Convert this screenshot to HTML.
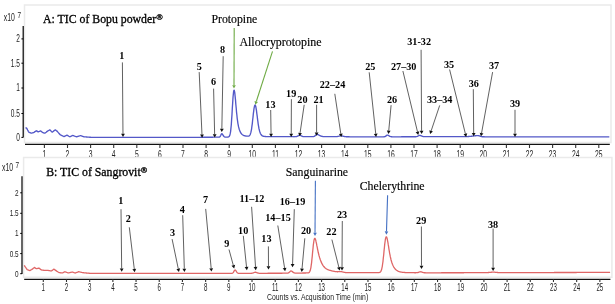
<!DOCTYPE html>
<html><head><meta charset="utf-8"><style>
html,body{margin:0;padding:0;background:#fff;}
body{width:615px;height:304px;overflow:hidden;}
svg{display:block;filter:blur(0.3px);}
</style></head><body><svg width="615" height="304" viewBox="0 0 615 304"><path d="M24.5,142.4 V5.0 H611.0 V142.4 Z" fill="none" stroke="#eaeaea" stroke-width="1.5"/><line x1="23.2" y1="26" x2="23.2" y2="137.6" stroke="#000" stroke-width="1.2"/><line x1="21.4" y1="38.9" x2="23.2" y2="38.9" stroke="#000" stroke-width="1"/><text transform="translate(19.8,42.3) scale(0.62,1)" text-anchor="end" font-family="Liberation Sans" font-size="10.6" fill="#222">2</text><line x1="21.4" y1="63.2" x2="23.2" y2="63.2" stroke="#000" stroke-width="1"/><text transform="translate(19.8,66.60000000000001) scale(0.62,1)" text-anchor="end" font-family="Liberation Sans" font-size="10.6" fill="#222">1.5</text><line x1="21.4" y1="88" x2="23.2" y2="88" stroke="#000" stroke-width="1"/><text transform="translate(19.8,91.4) scale(0.62,1)" text-anchor="end" font-family="Liberation Sans" font-size="10.6" fill="#222">1</text><line x1="21.4" y1="113.5" x2="23.2" y2="113.5" stroke="#000" stroke-width="1"/><text transform="translate(19.8,116.9) scale(0.62,1)" text-anchor="end" font-family="Liberation Sans" font-size="10.6" fill="#222">0.5</text><line x1="21.4" y1="137.4" x2="23.2" y2="137.4" stroke="#000" stroke-width="1"/><text transform="translate(19.8,140.8) scale(0.62,1)" text-anchor="end" font-family="Liberation Sans" font-size="10.6" fill="#222">0</text><line x1="25" y1="144.4" x2="609.8" y2="144.4" stroke="#111" stroke-width="1.15"/><line x1="44.40" y1="144.4" x2="44.40" y2="148.0" stroke="#333" stroke-width="1.1"/><text transform="translate(44.4,157.7) scale(0.64,1)" text-anchor="middle" font-family="Liberation Sans" font-size="10.6" fill="#222">1</text><line x1="67.50" y1="144.4" x2="67.50" y2="148.0" stroke="#333" stroke-width="1.1"/><text transform="translate(67.5,157.7) scale(0.64,1)" text-anchor="middle" font-family="Liberation Sans" font-size="10.6" fill="#222">2</text><line x1="90.60" y1="144.4" x2="90.60" y2="148.0" stroke="#333" stroke-width="1.1"/><text transform="translate(90.6,157.7) scale(0.64,1)" text-anchor="middle" font-family="Liberation Sans" font-size="10.6" fill="#222">3</text><line x1="113.70" y1="144.4" x2="113.70" y2="148.0" stroke="#333" stroke-width="1.1"/><text transform="translate(113.7,157.7) scale(0.64,1)" text-anchor="middle" font-family="Liberation Sans" font-size="10.6" fill="#222">4</text><line x1="136.80" y1="144.4" x2="136.80" y2="148.0" stroke="#333" stroke-width="1.1"/><text transform="translate(136.8,157.7) scale(0.64,1)" text-anchor="middle" font-family="Liberation Sans" font-size="10.6" fill="#222">5</text><line x1="159.90" y1="144.4" x2="159.90" y2="148.0" stroke="#333" stroke-width="1.1"/><text transform="translate(159.9,157.7) scale(0.64,1)" text-anchor="middle" font-family="Liberation Sans" font-size="10.6" fill="#222">6</text><line x1="183.00" y1="144.4" x2="183.00" y2="148.0" stroke="#333" stroke-width="1.1"/><text transform="translate(183.0,157.7) scale(0.64,1)" text-anchor="middle" font-family="Liberation Sans" font-size="10.6" fill="#222">7</text><line x1="206.10" y1="144.4" x2="206.10" y2="148.0" stroke="#333" stroke-width="1.1"/><text transform="translate(206.1,157.7) scale(0.64,1)" text-anchor="middle" font-family="Liberation Sans" font-size="10.6" fill="#222">8</text><line x1="229.20" y1="144.4" x2="229.20" y2="148.0" stroke="#333" stroke-width="1.1"/><text transform="translate(229.2,157.7) scale(0.64,1)" text-anchor="middle" font-family="Liberation Sans" font-size="10.6" fill="#222">9</text><line x1="252.30" y1="144.4" x2="252.30" y2="148.0" stroke="#333" stroke-width="1.1"/><text transform="translate(252.3,157.7) scale(0.64,1)" text-anchor="middle" font-family="Liberation Sans" font-size="10.6" fill="#222">10</text><line x1="275.40" y1="144.4" x2="275.40" y2="148.0" stroke="#333" stroke-width="1.1"/><text transform="translate(275.4,157.7) scale(0.64,1)" text-anchor="middle" font-family="Liberation Sans" font-size="10.6" fill="#222">11</text><line x1="298.50" y1="144.4" x2="298.50" y2="148.0" stroke="#333" stroke-width="1.1"/><text transform="translate(298.5,157.7) scale(0.64,1)" text-anchor="middle" font-family="Liberation Sans" font-size="10.6" fill="#222">12</text><line x1="321.60" y1="144.4" x2="321.60" y2="148.0" stroke="#333" stroke-width="1.1"/><text transform="translate(321.6,157.7) scale(0.64,1)" text-anchor="middle" font-family="Liberation Sans" font-size="10.6" fill="#222">13</text><line x1="344.70" y1="144.4" x2="344.70" y2="148.0" stroke="#333" stroke-width="1.1"/><text transform="translate(344.7,157.7) scale(0.64,1)" text-anchor="middle" font-family="Liberation Sans" font-size="10.6" fill="#222">14</text><line x1="367.80" y1="144.4" x2="367.80" y2="148.0" stroke="#333" stroke-width="1.1"/><text transform="translate(367.8,157.7) scale(0.64,1)" text-anchor="middle" font-family="Liberation Sans" font-size="10.6" fill="#222">15</text><line x1="390.90" y1="144.4" x2="390.90" y2="148.0" stroke="#333" stroke-width="1.1"/><text transform="translate(390.9,157.7) scale(0.64,1)" text-anchor="middle" font-family="Liberation Sans" font-size="10.6" fill="#222">16</text><line x1="414.00" y1="144.4" x2="414.00" y2="148.0" stroke="#333" stroke-width="1.1"/><text transform="translate(414.0,157.7) scale(0.64,1)" text-anchor="middle" font-family="Liberation Sans" font-size="10.6" fill="#222">17</text><line x1="437.10" y1="144.4" x2="437.10" y2="148.0" stroke="#333" stroke-width="1.1"/><text transform="translate(437.1,157.7) scale(0.64,1)" text-anchor="middle" font-family="Liberation Sans" font-size="10.6" fill="#222">18</text><line x1="460.20" y1="144.4" x2="460.20" y2="148.0" stroke="#333" stroke-width="1.1"/><text transform="translate(460.2,157.7) scale(0.64,1)" text-anchor="middle" font-family="Liberation Sans" font-size="10.6" fill="#222">19</text><line x1="483.30" y1="144.4" x2="483.30" y2="148.0" stroke="#333" stroke-width="1.1"/><text transform="translate(483.3,157.7) scale(0.64,1)" text-anchor="middle" font-family="Liberation Sans" font-size="10.6" fill="#222">20</text><line x1="506.40" y1="144.4" x2="506.40" y2="148.0" stroke="#333" stroke-width="1.1"/><text transform="translate(506.4,157.7) scale(0.64,1)" text-anchor="middle" font-family="Liberation Sans" font-size="10.6" fill="#222">21</text><line x1="529.50" y1="144.4" x2="529.50" y2="148.0" stroke="#333" stroke-width="1.1"/><text transform="translate(529.5,157.7) scale(0.64,1)" text-anchor="middle" font-family="Liberation Sans" font-size="10.6" fill="#222">22</text><line x1="552.60" y1="144.4" x2="552.60" y2="148.0" stroke="#333" stroke-width="1.1"/><text transform="translate(552.6,157.7) scale(0.64,1)" text-anchor="middle" font-family="Liberation Sans" font-size="10.6" fill="#222">23</text><line x1="575.70" y1="144.4" x2="575.70" y2="148.0" stroke="#333" stroke-width="1.1"/><text transform="translate(575.7,157.7) scale(0.64,1)" text-anchor="middle" font-family="Liberation Sans" font-size="10.6" fill="#222">24</text><line x1="598.80" y1="144.4" x2="598.80" y2="148.0" stroke="#333" stroke-width="1.1"/><text transform="translate(598.8,157.7) scale(0.64,1)" text-anchor="middle" font-family="Liberation Sans" font-size="10.6" fill="#222">25</text><text transform="translate(3.8,20.8) scale(0.66,1)" text-anchor="start" font-family="Liberation Sans" font-size="10.4" fill="#222">x10</text><text transform="translate(17.4,17.5) scale(0.7,1)" text-anchor="start" font-family="Liberation Sans" font-size="9.2" fill="#222">7</text><path d="M23.6,277.3 V157.6 H611.9 V277.3 Z" fill="none" stroke="#eaeaea" stroke-width="1.5"/><line x1="22.0" y1="176.3" x2="22.0" y2="274" stroke="#000" stroke-width="1.2"/><line x1="20.2" y1="192.8" x2="22.0" y2="192.8" stroke="#000" stroke-width="1"/><text transform="translate(18.6,195.8) scale(0.68,1)" text-anchor="end" font-family="Liberation Sans" font-size="9.4" fill="#222">2</text><line x1="20.2" y1="213.3" x2="22.0" y2="213.3" stroke="#000" stroke-width="1"/><text transform="translate(18.6,216.3) scale(0.68,1)" text-anchor="end" font-family="Liberation Sans" font-size="9.4" fill="#222">1.5</text><line x1="20.2" y1="233.4" x2="22.0" y2="233.4" stroke="#000" stroke-width="1"/><text transform="translate(18.6,236.4) scale(0.68,1)" text-anchor="end" font-family="Liberation Sans" font-size="9.4" fill="#222">1</text><line x1="20.2" y1="253.6" x2="22.0" y2="253.6" stroke="#000" stroke-width="1"/><text transform="translate(18.6,256.6) scale(0.68,1)" text-anchor="end" font-family="Liberation Sans" font-size="9.4" fill="#222">0.5</text><line x1="20.2" y1="273.7" x2="22.0" y2="273.7" stroke="#000" stroke-width="1"/><text transform="translate(18.6,276.7) scale(0.68,1)" text-anchor="end" font-family="Liberation Sans" font-size="9.4" fill="#222">0</text><line x1="24.2" y1="279.3" x2="610.4" y2="279.3" stroke="#111" stroke-width="1.15"/><line x1="43.30" y1="279.3" x2="43.30" y2="282.0" stroke="#333" stroke-width="1.1"/><text transform="translate(43.3,290.5) scale(0.58,1)" text-anchor="middle" font-family="Liberation Sans" font-size="10.6" fill="#222">1</text><line x1="66.49" y1="279.3" x2="66.49" y2="282.0" stroke="#333" stroke-width="1.1"/><text transform="translate(66.49,290.5) scale(0.58,1)" text-anchor="middle" font-family="Liberation Sans" font-size="10.6" fill="#222">2</text><line x1="89.68" y1="279.3" x2="89.68" y2="282.0" stroke="#333" stroke-width="1.1"/><text transform="translate(89.68,290.5) scale(0.58,1)" text-anchor="middle" font-family="Liberation Sans" font-size="10.6" fill="#222">3</text><line x1="112.87" y1="279.3" x2="112.87" y2="282.0" stroke="#333" stroke-width="1.1"/><text transform="translate(112.87,290.5) scale(0.58,1)" text-anchor="middle" font-family="Liberation Sans" font-size="10.6" fill="#222">4</text><line x1="136.06" y1="279.3" x2="136.06" y2="282.0" stroke="#333" stroke-width="1.1"/><text transform="translate(136.06,290.5) scale(0.58,1)" text-anchor="middle" font-family="Liberation Sans" font-size="10.6" fill="#222">5</text><line x1="159.25" y1="279.3" x2="159.25" y2="282.0" stroke="#333" stroke-width="1.1"/><text transform="translate(159.25,290.5) scale(0.58,1)" text-anchor="middle" font-family="Liberation Sans" font-size="10.6" fill="#222">6</text><line x1="182.44" y1="279.3" x2="182.44" y2="282.0" stroke="#333" stroke-width="1.1"/><text transform="translate(182.44,290.5) scale(0.58,1)" text-anchor="middle" font-family="Liberation Sans" font-size="10.6" fill="#222">7</text><line x1="205.63" y1="279.3" x2="205.63" y2="282.0" stroke="#333" stroke-width="1.1"/><text transform="translate(205.63,290.5) scale(0.58,1)" text-anchor="middle" font-family="Liberation Sans" font-size="10.6" fill="#222">8</text><line x1="228.82" y1="279.3" x2="228.82" y2="282.0" stroke="#333" stroke-width="1.1"/><text transform="translate(228.82,290.5) scale(0.58,1)" text-anchor="middle" font-family="Liberation Sans" font-size="10.6" fill="#222">9</text><line x1="252.01" y1="279.3" x2="252.01" y2="282.0" stroke="#333" stroke-width="1.1"/><text transform="translate(252.01,290.5) scale(0.58,1)" text-anchor="middle" font-family="Liberation Sans" font-size="10.6" fill="#222">10</text><line x1="275.20" y1="279.3" x2="275.20" y2="282.0" stroke="#333" stroke-width="1.1"/><text transform="translate(275.2,290.5) scale(0.58,1)" text-anchor="middle" font-family="Liberation Sans" font-size="10.6" fill="#222">11</text><line x1="298.39" y1="279.3" x2="298.39" y2="282.0" stroke="#333" stroke-width="1.1"/><text transform="translate(298.39,290.5) scale(0.58,1)" text-anchor="middle" font-family="Liberation Sans" font-size="10.6" fill="#222">12</text><line x1="321.58" y1="279.3" x2="321.58" y2="282.0" stroke="#333" stroke-width="1.1"/><text transform="translate(321.58,290.5) scale(0.58,1)" text-anchor="middle" font-family="Liberation Sans" font-size="10.6" fill="#222">13</text><line x1="344.77" y1="279.3" x2="344.77" y2="282.0" stroke="#333" stroke-width="1.1"/><text transform="translate(344.77,290.5) scale(0.58,1)" text-anchor="middle" font-family="Liberation Sans" font-size="10.6" fill="#222">14</text><line x1="367.96" y1="279.3" x2="367.96" y2="282.0" stroke="#333" stroke-width="1.1"/><text transform="translate(367.96,290.5) scale(0.58,1)" text-anchor="middle" font-family="Liberation Sans" font-size="10.6" fill="#222">15</text><line x1="391.15" y1="279.3" x2="391.15" y2="282.0" stroke="#333" stroke-width="1.1"/><text transform="translate(391.15,290.5) scale(0.58,1)" text-anchor="middle" font-family="Liberation Sans" font-size="10.6" fill="#222">16</text><line x1="414.34" y1="279.3" x2="414.34" y2="282.0" stroke="#333" stroke-width="1.1"/><text transform="translate(414.34,290.5) scale(0.58,1)" text-anchor="middle" font-family="Liberation Sans" font-size="10.6" fill="#222">17</text><line x1="437.53" y1="279.3" x2="437.53" y2="282.0" stroke="#333" stroke-width="1.1"/><text transform="translate(437.53,290.5) scale(0.58,1)" text-anchor="middle" font-family="Liberation Sans" font-size="10.6" fill="#222">18</text><line x1="460.72" y1="279.3" x2="460.72" y2="282.0" stroke="#333" stroke-width="1.1"/><text transform="translate(460.72,290.5) scale(0.58,1)" text-anchor="middle" font-family="Liberation Sans" font-size="10.6" fill="#222">19</text><line x1="483.91" y1="279.3" x2="483.91" y2="282.0" stroke="#333" stroke-width="1.1"/><text transform="translate(483.91,290.5) scale(0.58,1)" text-anchor="middle" font-family="Liberation Sans" font-size="10.6" fill="#222">20</text><line x1="507.10" y1="279.3" x2="507.10" y2="282.0" stroke="#333" stroke-width="1.1"/><text transform="translate(507.1,290.5) scale(0.58,1)" text-anchor="middle" font-family="Liberation Sans" font-size="10.6" fill="#222">21</text><line x1="530.29" y1="279.3" x2="530.29" y2="282.0" stroke="#333" stroke-width="1.1"/><text transform="translate(530.29,290.5) scale(0.58,1)" text-anchor="middle" font-family="Liberation Sans" font-size="10.6" fill="#222">22</text><line x1="553.48" y1="279.3" x2="553.48" y2="282.0" stroke="#333" stroke-width="1.1"/><text transform="translate(553.48,290.5) scale(0.58,1)" text-anchor="middle" font-family="Liberation Sans" font-size="10.6" fill="#222">23</text><line x1="576.67" y1="279.3" x2="576.67" y2="282.0" stroke="#333" stroke-width="1.1"/><text transform="translate(576.67,290.5) scale(0.58,1)" text-anchor="middle" font-family="Liberation Sans" font-size="10.6" fill="#222">24</text><line x1="599.86" y1="279.3" x2="599.86" y2="282.0" stroke="#333" stroke-width="1.1"/><text transform="translate(599.86,290.5) scale(0.58,1)" text-anchor="middle" font-family="Liberation Sans" font-size="10.6" fill="#222">25</text><text transform="translate(2.0,171) scale(0.66,1)" text-anchor="start" font-family="Liberation Sans" font-size="10.4" fill="#222">x10</text><text transform="translate(15.6,167.7) scale(0.7,1)" text-anchor="start" font-family="Liberation Sans" font-size="9.2" fill="#222">7</text><text x="43" y="22.7" font-family="Liberation Serif" font-size="11.8" fill="#000" stroke="#000" stroke-width="0.3">A: TIC of Bopu powder<tspan font-size="8.6" font-weight="bold" dy="-3.2">®</tspan></text><text x="46.2" y="176" font-family="Liberation Serif" font-size="11.8" fill="#000" stroke="#000" stroke-width="0.3">B: TIC of Sangrovit<tspan font-size="8.6" font-weight="bold" dy="-3.2">®</tspan></text><path d="M25.5,128.00 25.9,127.92 26.2,127.84 26.6,128.08 26.9,128.72 27.3,129.36 27.6,130.00 28.0,130.64 28.3,131.28 28.7,131.93 29.0,132.28 29.4,132.42 29.7,132.56 30.1,132.70 30.4,132.84 30.8,132.98 31.1,133.12 31.5,133.16 31.8,133.05 32.2,132.95 32.5,132.85 32.9,132.75 33.2,132.65 33.6,132.54 33.9,132.37 34.3,132.13 34.6,131.90 35.0,131.67 35.3,131.43 35.7,131.20 36.0,130.97 36.4,130.73 36.7,130.91 37.1,131.16 37.4,131.41 37.8,131.65 38.1,131.90 38.5,131.75 38.8,131.61 39.2,131.46 39.5,131.32 39.9,131.17 40.2,131.02 40.6,130.94 40.9,131.19 41.3,131.44 41.6,131.69 42.0,131.94 42.3,132.20 42.7,132.45 43.0,132.70 43.4,132.79 43.7,132.88 44.1,132.98 44.4,133.07 44.8,133.16 45.1,133.04 45.5,132.76 45.8,132.48 46.2,132.20 46.5,131.92 46.9,131.64 47.2,131.36 47.6,131.11 47.9,130.91 48.3,130.70 48.6,130.50 49.0,130.30 49.3,130.09 49.7,129.89 50.0,130.00 50.4,130.35 50.7,130.70 51.1,131.05 51.4,131.40 51.8,131.75 52.1,132.10 52.5,132.00 52.8,131.72 53.2,131.44 53.5,131.16 53.9,130.88 54.2,130.60 54.6,130.32 54.9,130.04 55.3,129.84 55.6,130.09 56.0,130.35 56.3,130.61 56.7,130.87 57.0,131.13 57.4,131.49 57.7,131.90 58.1,132.31 58.4,132.72 58.8,133.13 59.1,133.54 59.5,133.96 59.8,134.37 60.2,134.68 60.5,134.85 60.9,135.03 61.2,135.20 61.6,135.38 61.9,135.55 62.3,135.73 62.6,135.90 63.0,136.08 63.3,136.25 63.7,136.43 64.0,136.60 64.4,136.42 64.7,136.24 65.1,136.06 65.4,135.88 65.8,135.69 66.1,135.51 66.5,135.33 66.8,135.15 67.2,135.25 67.5,135.45 67.9,135.66 68.2,135.86 68.6,136.07 68.9,136.27 69.3,136.48 69.6,136.68 70.0,136.73 70.3,136.56 70.7,136.39 71.0,136.22 71.4,136.05 71.7,135.88 72.1,135.71 72.4,135.54 72.8,135.42 73.1,135.54 73.5,135.67 73.8,135.79 74.1,135.92 74.5,136.05 74.8,136.17 75.2,136.30 75.5,136.42 75.9,136.55 76.2,136.67 76.6,136.80 76.9,136.69 77.3,136.58 77.6,136.48 78.0,136.37 78.3,136.26 78.7,136.15 79.0,136.05 79.4,135.94 79.7,135.83 80.1,135.72 80.4,135.62 80.8,135.70 81.1,135.82 81.5,135.94 81.8,136.06 82.2,136.18 82.5,136.30 82.9,136.42 83.2,136.54 83.6,136.66 83.9,136.78 84.3,136.82 84.6,136.85 85.0,136.88 85.3,136.90 85.7,136.93 86.0,136.95 86.4,136.98 86.7,137.01 87.1,137.03 87.4,137.06 87.8,137.08 88.1,137.11 88.5,137.14 88.8,137.16 89.2,137.19 89.5,137.22 89.9,137.24 90.2,137.27 90.6,137.29 90.9,137.32 91.3,137.35 91.6,137.37 92.0,137.40 92.3,137.40 92.7,137.40 93.0,137.40 93.4,137.40 93.7,137.40 94.1,137.40 94.4,137.40 94.8,137.40 95.1,137.40 95.5,137.40 95.8,137.40 96.2,137.40 96.5,137.40 96.9,137.40 97.2,137.40 97.6,137.39 97.9,137.39 98.3,137.39 98.6,137.39 99.0,137.39 99.3,137.39 99.7,137.39 100.0,137.39 100.4,137.39 100.7,137.39 101.1,137.39 101.4,137.39 101.8,137.39 102.1,137.39 102.5,137.39 102.8,137.39 103.2,137.39 103.5,137.39 103.9,137.39 104.2,137.39 104.6,137.39 104.9,137.39 105.3,137.39 105.6,137.39 106.0,137.39 106.3,137.39 106.7,137.39 107.0,137.39 107.4,137.39 107.7,137.39 108.1,137.39 108.4,137.38 108.8,137.38 109.1,137.38 109.5,137.38 109.8,137.38 110.2,137.38 110.5,137.38 110.9,137.38 111.2,137.38 111.6,137.38 111.9,137.38 112.3,137.38 112.6,137.38 113.0,137.38 113.3,137.38 113.7,137.38 114.0,137.38 114.4,137.38 114.7,137.38 115.1,137.38 115.4,137.38 115.8,137.38 116.1,137.38 116.5,137.38 116.8,137.38 117.2,137.38 117.5,137.38 117.9,137.38 118.2,137.38 118.6,137.38 118.9,137.38 119.3,137.37 119.6,137.37 120.0,137.37 120.3,137.37 120.7,137.37 121.0,137.37 121.4,137.37 121.7,137.37 122.1,137.37 122.4,137.37 122.8,137.37 123.1,137.37 123.5,137.37 123.8,137.37 124.2,137.37 124.5,137.37 124.9,137.37 125.2,137.37 125.6,137.37 125.9,137.37 126.3,137.37 126.6,137.37 127.0,137.37 127.3,137.37 127.7,137.37 128.0,137.37 128.4,137.37 128.7,137.37 129.1,137.37 129.4,137.37 129.8,137.37 130.1,137.36 130.5,137.36 130.8,137.36 131.2,137.36 131.5,137.36 131.9,137.36 132.2,137.36 132.6,137.36 132.9,137.36 133.3,137.36 133.6,137.36 134.0,137.36 134.3,137.36 134.7,137.36 135.0,137.36 135.4,137.36 135.7,137.36 136.1,137.36 136.4,137.36 136.8,137.36 137.1,137.36 137.5,137.36 137.8,137.36 138.2,137.36 138.5,137.36 138.9,137.36 139.2,137.36 139.6,137.36 139.9,137.36 140.3,137.36 140.6,137.35 141.0,137.35 141.3,137.35 141.7,137.35 142.0,137.35 142.4,137.35 142.7,137.35 143.1,137.35 143.4,137.35 143.8,137.35 144.1,137.35 144.5,137.35 144.8,137.35 145.2,137.35 145.5,137.35 145.9,137.35 146.2,137.35 146.6,137.35 146.9,137.35 147.3,137.35 147.6,137.35 148.0,137.35 148.3,137.35 148.7,137.35 149.0,137.35 149.4,137.35 149.7,137.35 150.1,137.35 150.4,137.35 150.8,137.35 151.1,137.35 151.5,137.34 151.8,137.34 152.2,137.34 152.5,137.34 152.9,137.34 153.2,137.34 153.6,137.34 153.9,137.34 154.3,137.34 154.6,137.34 155.0,137.34 155.3,137.34 155.7,137.34 156.0,137.34 156.4,137.34 156.7,137.34 157.1,137.34 157.4,137.34 157.8,137.34 158.1,137.34 158.5,137.34 158.8,137.34 159.2,137.34 159.5,137.34 159.9,137.34 160.2,137.34 160.6,137.34 160.9,137.34 161.3,137.34 161.6,137.34 162.0,137.34 162.3,137.33 162.7,137.33 163.0,137.33 163.4,137.33 163.7,137.33 164.1,137.33 164.4,137.33 164.8,137.33 165.1,137.33 165.5,137.33 165.8,137.33 166.2,137.33 166.5,137.33 166.9,137.33 167.2,137.33 167.6,137.33 167.9,137.33 168.3,137.33 168.6,137.33 169.0,137.33 169.3,137.33 169.7,137.33 170.0,137.33 170.4,137.33 170.7,137.33 171.1,137.33 171.4,137.33 171.8,137.33 172.1,137.33 172.5,137.33 172.8,137.33 173.2,137.32 173.5,137.32 173.9,137.32 174.2,137.32 174.6,137.32 174.9,137.32 175.3,137.32 175.6,137.32 176.0,137.32 176.3,137.32 176.7,137.32 177.0,137.32 177.4,137.32 177.7,137.32 178.1,137.32 178.4,137.32 178.8,137.32 179.1,137.32 179.5,137.32 179.8,137.32 180.2,137.32 180.5,137.32 180.9,137.32 181.2,137.32 181.6,137.32 181.9,137.32 182.3,137.32 182.6,137.32 183.0,137.32 183.3,137.32 183.7,137.32 184.0,137.31 184.4,137.31 184.7,137.31 185.1,137.31 185.4,137.31 185.8,137.31 186.1,137.31 186.5,137.31 186.8,137.31 187.2,137.31 187.5,137.31 187.9,137.31 188.2,137.31 188.6,137.31 188.9,137.31 189.3,137.31 189.6,137.31 190.0,137.31 190.3,137.31 190.7,137.31 191.0,137.31 191.4,137.31 191.7,137.31 192.1,137.31 192.4,137.31 192.8,137.31 193.1,137.31 193.5,137.31 193.8,137.31 194.2,137.31 194.5,137.31 194.9,137.30 195.2,137.30 195.6,137.30 195.9,137.30 196.3,137.30 196.6,137.30 197.0,137.30 197.3,137.30 197.7,137.30 198.0,137.30 198.4,137.30 198.7,137.30 199.1,137.30 199.4,137.30 199.8,137.30 200.1,137.30 200.5,137.30 200.8,137.29 201.2,137.29 201.5,137.29 201.9,137.28 202.2,137.28 202.6,137.28 202.9,137.28 203.3,137.27 203.6,137.27 204.0,137.27 204.3,137.27 204.7,137.26 205.0,137.26 205.4,137.26 205.7,137.25 206.1,137.25 206.4,137.25 206.8,137.25 207.1,137.24 207.5,137.24 207.8,137.24 208.2,137.23 208.5,137.23 208.9,137.23 209.2,137.23 209.6,137.22 209.9,137.22 210.3,137.22 210.6,137.21 211.0,137.21 211.3,137.21 211.7,137.21 212.0,137.20 212.4,137.20 212.7,137.20 213.1,137.20 213.4,137.19 213.8,137.19 214.1,137.19 214.5,137.18 214.8,137.18 215.2,137.18 215.5,137.18 215.9,137.17 216.2,137.17 216.6,137.17 216.9,137.16 217.3,137.16 217.6,137.16 218.0,137.16 218.3,137.15 218.7,137.14 219.0,137.12 219.4,137.05 219.7,136.89 220.1,136.57 220.4,136.03 220.8,135.30 221.1,134.51 221.5,133.91 221.8,133.73 222.2,133.91 222.5,134.32 222.9,134.88 223.2,135.48 223.6,136.01 223.9,136.43 224.3,136.72 224.6,136.90 225.0,137.00 225.3,137.05 225.7,137.07 226.0,137.08 226.4,137.08 226.7,137.07 227.1,137.07 227.4,137.05 227.8,137.03 228.1,137.00 228.5,136.92 228.8,136.76 229.2,136.47 229.5,135.94 229.9,135.06 230.2,133.66 230.6,131.56 230.9,128.60 231.3,124.71 231.6,119.90 232.0,114.38 232.3,108.46 232.7,102.65 233.0,97.49 233.4,93.47 233.7,90.95 234.1,90.09 234.4,90.84 234.8,92.96 235.1,96.11 235.5,99.90 235.8,103.95 236.2,107.99 236.5,111.80 236.9,115.27 237.2,118.35 237.6,121.03 237.9,123.32 238.3,125.28 238.6,126.94 239.0,128.35 239.3,129.53 239.7,130.53 240.0,131.38 240.4,132.13 240.7,132.76 241.1,133.30 241.4,133.75 241.8,134.14 242.1,134.47 242.5,134.75 242.8,134.99 243.2,135.19 243.5,135.36 243.9,135.51 244.2,135.63 244.6,135.74 244.9,135.83 245.3,135.91 245.6,135.98 246.0,136.04 246.3,136.08 246.7,136.13 247.0,136.16 247.4,136.18 247.7,136.19 248.1,136.17 248.4,136.13 248.8,136.03 249.1,135.86 249.5,135.58 249.8,135.15 250.2,134.52 250.5,133.61 250.9,132.39 251.2,130.79 251.6,128.78 251.9,126.36 252.3,123.58 252.6,120.51 253.0,117.29 253.3,114.09 253.7,111.12 254.0,108.56 254.4,106.61 254.7,105.39 255.1,104.98 255.4,105.40 255.8,106.58 256.1,108.40 256.5,110.72 256.8,113.37 257.2,116.17 257.5,118.96 257.9,121.64 258.2,124.11 258.6,126.31 258.9,128.22 259.3,129.85 259.6,131.21 260.0,132.32 260.3,133.22 260.7,133.95 261.0,134.52 261.4,134.98 261.7,135.34 262.1,135.62 262.4,135.84 262.8,136.01 263.1,136.14 263.5,136.24 263.8,136.32 264.2,136.39 264.5,136.44 264.9,136.48 265.2,136.51 265.6,136.53 265.9,136.55 266.3,136.56 266.6,136.58 267.0,136.59 267.3,136.59 267.7,136.60 268.0,136.60 268.4,136.61 268.7,136.61 269.1,136.61 269.4,136.62 269.8,136.62 270.1,136.62 270.5,136.62 270.8,136.62 271.2,136.63 271.5,136.63 271.9,136.63 272.2,136.63 272.6,136.63 272.9,136.63 273.3,136.63 273.6,136.64 274.0,136.64 274.3,136.64 274.7,136.64 275.0,136.64 275.4,136.64 275.7,136.64 276.1,136.64 276.4,136.64 276.8,136.64 277.1,136.65 277.5,136.65 277.8,136.65 278.2,136.65 278.5,136.65 278.9,136.65 279.2,136.65 279.6,136.65 279.9,136.65 280.3,136.66 280.6,136.66 281.0,136.66 281.3,136.66 281.7,136.66 282.0,136.66 282.4,136.66 282.7,136.66 283.1,136.66 283.4,136.66 283.8,136.67 284.1,136.67 284.5,136.67 284.8,136.67 285.2,136.67 285.5,136.67 285.9,136.67 286.2,136.67 286.6,136.67 286.9,136.68 287.3,136.68 287.6,136.68 288.0,136.68 288.3,136.68 288.7,136.68 289.0,136.68 289.4,136.68 289.7,136.68 290.1,136.69 290.4,136.69 290.8,136.69 291.1,136.69 291.5,136.69 291.8,136.69 292.2,136.69 292.5,136.69 292.9,136.69 293.2,136.69 293.6,136.70 293.9,136.70 294.3,136.70 294.6,136.69 295.0,136.69 295.3,136.68 295.7,136.66 296.0,136.62 296.4,136.56 296.7,136.48 297.1,136.36 297.4,136.21 297.8,136.02 298.1,135.81 298.5,135.60 298.8,135.41 299.2,135.27 299.5,135.19 299.9,135.20 300.2,135.28 300.6,135.43 300.9,135.62 301.3,135.83 301.7,136.04 302.0,136.22 302.4,136.36 302.7,136.47 303.1,136.55 303.4,136.60 303.8,136.64 304.1,136.65 304.5,136.66 304.8,136.67 305.2,136.67 305.5,136.67 305.9,136.67 306.2,136.67 306.6,136.67 306.9,136.67 307.3,136.66 307.6,136.66 308.0,136.66 308.3,136.66 308.7,136.66 309.0,136.66 309.4,136.66 309.7,136.66 310.1,136.66 310.4,136.66 310.8,136.65 311.1,136.65 311.5,136.65 311.8,136.65 312.2,136.65 312.5,136.64 312.9,136.63 313.2,136.60 313.6,136.55 313.9,136.46 314.3,136.32 314.6,136.12 315.0,135.84 315.3,135.51 315.7,135.15 316.0,134.82 316.4,134.57 316.7,134.44 317.1,134.45 317.4,134.50 317.8,134.59 318.1,134.71 318.5,134.86 318.8,135.03 319.2,135.22 319.5,135.40 319.9,135.58 320.2,135.76 320.6,135.91 320.9,136.05 321.3,136.17 321.6,136.28 322.0,136.36 322.3,136.43 322.7,136.48 323.0,136.52 323.4,136.55 323.7,136.57 324.1,136.58 324.4,136.59 324.8,136.60 325.1,136.61 325.5,136.61 325.8,136.61 326.2,136.61 326.5,136.61 326.9,136.61 327.2,136.61 327.6,136.61 327.9,136.61 328.3,136.60 328.6,136.60 329.0,136.60 329.3,136.60 329.7,136.60 330.0,136.60 330.4,136.60 330.7,136.61 331.1,136.61 331.4,136.61 331.8,136.62 332.1,136.62 332.5,136.62 332.8,136.63 333.2,136.63 333.5,136.63 333.9,136.64 334.2,136.64 334.6,136.64 334.9,136.64 335.3,136.64 335.6,136.63 336.0,136.62 336.3,136.61 336.7,136.58 337.0,136.55 337.4,136.50 337.7,136.45 338.1,136.38 338.4,136.30 338.8,136.21 339.1,136.12 339.5,136.03 339.8,135.95 340.2,135.88 340.5,135.83 340.9,135.81 341.2,135.82 341.6,135.85 341.9,135.91 342.3,135.98 342.6,136.07 343.0,136.17 343.3,136.27 343.7,136.36 344.0,136.45 344.4,136.52 344.7,136.58 345.1,136.63 345.4,136.67 345.8,136.70 346.1,136.73 346.5,136.74 346.8,136.75 347.2,136.76 347.5,136.77 347.9,136.78 348.2,136.78 348.6,136.78 348.9,136.79 349.3,136.79 349.6,136.80 350.0,136.80 350.3,136.80 350.7,136.81 351.0,136.81 351.4,136.81 351.7,136.82 352.1,136.82 352.4,136.82 352.8,136.83 353.1,136.83 353.5,136.83 353.8,136.84 354.2,136.84 354.5,136.84 354.9,136.85 355.2,136.85 355.6,136.86 355.9,136.86 356.3,136.86 356.6,136.87 357.0,136.87 357.3,136.87 357.7,136.88 358.0,136.88 358.4,136.88 358.7,136.89 359.1,136.89 359.4,136.89 359.8,136.90 360.1,136.90 360.5,136.90 360.8,136.90 361.2,136.90 361.5,136.90 361.9,136.90 362.2,136.89 362.6,136.89 362.9,136.89 363.3,136.89 363.6,136.89 364.0,136.89 364.3,136.89 364.7,136.89 365.0,136.89 365.4,136.89 365.7,136.89 366.1,136.88 366.4,136.88 366.8,136.88 367.1,136.88 367.5,136.88 367.8,136.88 368.2,136.88 368.5,136.88 368.9,136.88 369.2,136.88 369.6,136.88 369.9,136.88 370.3,136.87 370.6,136.87 371.0,136.87 371.3,136.87 371.7,136.87 372.0,136.87 372.4,136.87 372.7,136.87 373.1,136.87 373.4,136.87 373.8,136.87 374.1,136.86 374.5,136.86 374.8,136.86 375.2,136.86 375.5,136.86 375.9,136.86 376.2,136.86 376.6,136.86 376.9,136.86 377.3,136.86 377.6,136.86 378.0,136.86 378.3,136.85 378.7,136.85 379.0,136.85 379.4,136.85 379.7,136.85 380.1,136.85 380.4,136.85 380.8,136.85 381.1,136.85 381.5,136.85 381.8,136.85 382.2,136.84 382.5,136.84 382.9,136.84 383.2,136.83 383.6,136.82 383.9,136.79 384.3,136.75 384.6,136.67 385.0,136.55 385.3,136.38 385.7,136.15 386.0,135.88 386.4,135.61 386.7,135.36 387.1,135.19 387.4,135.13 387.8,135.17 388.1,135.28 388.5,135.46 388.8,135.67 389.2,135.89 389.5,136.11 389.9,136.30 390.2,136.46 390.6,136.58 390.9,136.67 391.3,136.73 391.6,136.77 392.0,136.79 392.3,136.80 392.7,136.81 393.0,136.81 393.4,136.81 393.7,136.82 394.1,136.81 394.4,136.81 394.8,136.81 395.1,136.81 395.5,136.81 395.8,136.81 396.2,136.81 396.5,136.81 396.9,136.81 397.2,136.81 397.6,136.81 397.9,136.81 398.3,136.80 398.6,136.80 399.0,136.80 399.3,136.80 399.7,136.80 400.0,136.80 400.4,136.80 400.7,136.80 401.1,136.80 401.4,136.79 401.8,136.79 402.1,136.79 402.5,136.79 402.8,136.79 403.2,136.79 403.5,136.79 403.9,136.78 404.2,136.78 404.6,136.78 404.9,136.78 405.3,136.78 405.6,136.78 406.0,136.78 406.3,136.77 406.7,136.77 407.0,136.77 407.4,136.77 407.7,136.77 408.1,136.77 408.4,136.77 408.8,136.76 409.1,136.76 409.5,136.76 409.8,136.76 410.2,136.76 410.5,136.76 410.9,136.76 411.2,136.76 411.6,136.75 411.9,136.75 412.3,136.75 412.6,136.75 413.0,136.75 413.3,136.75 413.7,136.75 414.0,136.74 414.4,136.74 414.7,136.74 415.1,136.73 415.4,136.72 415.8,136.71 416.1,136.68 416.5,136.63 416.8,136.56 417.2,136.45 417.5,136.31 417.9,136.13 418.2,135.94 418.6,135.74 418.9,135.58 419.3,135.46 419.6,135.42 420.0,135.44 420.3,135.51 420.7,135.62 421.0,135.76 421.4,135.90 421.7,136.05 422.1,136.20 422.4,136.32 422.8,136.43 423.1,136.51 423.5,136.57 423.8,136.62 424.2,136.65 424.5,136.67 424.9,136.68 425.2,136.69 425.6,136.69 425.9,136.69 426.3,136.69 426.6,136.69 427.0,136.69 427.3,136.69 427.7,136.69 428.0,136.69 428.4,136.69 428.7,136.69 429.1,136.68 429.4,136.68 429.8,136.68 430.1,136.68 430.5,136.68 430.8,136.68 431.2,136.68 431.5,136.67 431.9,136.67 432.2,136.67 432.6,136.67 432.9,136.67 433.3,136.67 433.6,136.67 434.0,136.66 434.3,136.66 434.7,136.66 435.0,136.66 435.4,136.66 435.7,136.66 436.1,136.66 436.4,136.65 436.8,136.65 437.1,136.65 437.5,136.65 437.8,136.65 438.2,136.65 438.5,136.65 438.9,136.64 439.2,136.64 439.6,136.64 439.9,136.64 440.3,136.64 440.6,136.64 441.0,136.64 441.3,136.63 441.7,136.63 442.0,136.63 442.4,136.63 442.7,136.63 443.1,136.63 443.4,136.63 443.8,136.62 444.1,136.62 444.5,136.62 444.8,136.62 445.2,136.62 445.5,136.62 445.9,136.62 446.2,136.62 446.6,136.61 446.9,136.61 447.3,136.61 447.6,136.61 448.0,136.61 448.3,136.61 448.7,136.61 449.0,136.60 449.4,136.60 449.7,136.60 450.1,136.60 450.4,136.60 450.8,136.60 451.1,136.61 451.5,136.61 451.8,136.61 452.2,136.61 452.5,136.61 452.9,136.61 453.2,136.62 453.6,136.62 453.9,136.62 454.3,136.62 454.6,136.62 455.0,136.62 455.3,136.63 455.7,136.63 456.0,136.63 456.4,136.63 456.7,136.63 457.1,136.64 457.4,136.64 457.8,136.64 458.1,136.64 458.5,136.64 458.8,136.64 459.2,136.64 459.5,136.65 459.9,136.65 460.2,136.65 460.6,136.65 460.9,136.65 461.3,136.65 461.6,136.65 462.0,136.65 462.3,136.65 462.7,136.65 463.0,136.65 463.4,136.65 463.7,136.65 464.1,136.65 464.4,136.64 464.8,136.64 465.1,136.64 465.5,136.63 465.8,136.62 466.2,136.61 466.5,136.60 466.9,136.59 467.2,136.58 467.6,136.56 467.9,136.55 468.3,136.53 468.6,136.51 469.0,136.48 469.3,136.45 469.7,136.43 470.0,136.39 470.4,136.36 470.7,136.33 471.1,136.29 471.4,136.25 471.8,136.21 472.1,136.17 472.5,136.12 472.8,136.08 473.2,136.03 473.5,135.99 473.9,135.95 474.2,135.90 474.6,135.86 474.9,135.83 475.3,135.79 475.6,135.76 476.0,135.73 476.3,135.70 476.7,135.68 477.0,135.67 477.4,135.66 477.7,135.65 478.1,135.65 478.4,135.68 478.8,135.75 479.1,135.85 479.5,135.97 479.8,136.10 480.2,136.23 480.5,136.35 480.9,136.46 481.2,136.55 481.6,136.62 481.9,136.67 482.3,136.71 482.6,136.74 483.0,136.76 483.3,136.77 483.7,136.78 484.0,136.79 484.4,136.79 484.7,136.80 485.1,136.80 485.4,136.80 485.8,136.80 486.1,136.80 486.5,136.80 486.8,136.80 487.2,136.80 487.5,136.80 487.9,136.80 488.2,136.80 488.6,136.80 488.9,136.80 489.3,136.80 489.6,136.80 490.0,136.80 490.3,136.80 490.7,136.80 491.0,136.80 491.4,136.80 491.7,136.80 492.1,136.80 492.4,136.80 492.8,136.80 493.1,136.80 493.5,136.80 493.8,136.80 494.2,136.80 494.5,136.80 494.9,136.80 495.2,136.80 495.6,136.80 495.9,136.80 496.3,136.80 496.6,136.80 497.0,136.80 497.3,136.80 497.7,136.80 498.0,136.80 498.4,136.80 498.7,136.80 499.1,136.80 499.4,136.80 499.8,136.80 500.1,136.80 500.5,136.80 500.8,136.80 501.2,136.80 501.5,136.80 501.9,136.80 502.2,136.80 502.6,136.80 502.9,136.80 503.3,136.80 503.6,136.80 504.0,136.80 504.3,136.80 504.7,136.80 505.0,136.80 505.4,136.80 505.7,136.80 506.1,136.80 506.4,136.80 506.8,136.80 507.1,136.80 507.5,136.80 507.8,136.80 508.2,136.80 508.5,136.80 508.9,136.80 509.2,136.80 509.6,136.80 509.9,136.80 510.3,136.80 510.6,136.80 511.0,136.80 511.3,136.80 511.7,136.80 512.0,136.80 512.4,136.80 512.7,136.80 513.1,136.80 513.4,136.80 513.8,136.80 514.1,136.80 514.5,136.80 514.8,136.80 515.2,136.80 515.5,136.80 515.9,136.80 516.2,136.80 516.6,136.80 516.9,136.80 517.3,136.80 517.6,136.80 518.0,136.80 518.3,136.80 518.7,136.80 519.0,136.80 519.4,136.80 519.7,136.80 520.1,136.80 520.4,136.80 520.8,136.80 521.1,136.80 521.5,136.80 521.8,136.80 522.2,136.80 522.5,136.80 522.9,136.80 523.2,136.80 523.6,136.80 523.9,136.80 524.3,136.80 524.6,136.80 525.0,136.80 525.3,136.80 525.7,136.80 526.0,136.80 526.4,136.80 526.7,136.80 527.1,136.80 527.4,136.80 527.8,136.80 528.1,136.80 528.5,136.80 528.8,136.80 529.2,136.80 529.5,136.80 529.9,136.80 530.2,136.80 530.6,136.80 530.9,136.80 531.3,136.80 531.6,136.80 532.0,136.80 532.3,136.80 532.7,136.80 533.0,136.80 533.4,136.80 533.7,136.80 534.1,136.80 534.4,136.80 534.8,136.80 535.1,136.80 535.5,136.80 535.8,136.80 536.2,136.80 536.5,136.80 536.9,136.80 537.2,136.80 537.6,136.80 537.9,136.80 538.3,136.80 538.6,136.80 539.0,136.80 539.3,136.80 539.7,136.80 540.0,136.80 540.4,136.80 540.7,136.80 541.1,136.80 541.4,136.80 541.8,136.80 542.1,136.80 542.5,136.80 542.8,136.80 543.2,136.80 543.5,136.80 543.9,136.80 544.2,136.80 544.6,136.80 544.9,136.80 545.3,136.80 545.6,136.80 546.0,136.80 546.3,136.80 546.7,136.80 547.0,136.80 547.4,136.80 547.7,136.80 548.1,136.80 548.4,136.80 548.8,136.80 549.1,136.80 549.5,136.80 549.8,136.80 550.2,136.80 550.5,136.80 550.9,136.80 551.2,136.80 551.6,136.80 551.9,136.80 552.3,136.80 552.6,136.80 553.0,136.80 553.3,136.80 553.7,136.80 554.0,136.80 554.4,136.80 554.7,136.80 555.1,136.80 555.4,136.80 555.8,136.80 556.1,136.80 556.5,136.80 556.8,136.80 557.2,136.80 557.5,136.80 557.9,136.80 558.2,136.80 558.6,136.80 558.9,136.80 559.3,136.80 559.6,136.80 560.0,136.80 560.3,136.80 560.7,136.80 561.0,136.80 561.4,136.80 561.7,136.80 562.1,136.80 562.4,136.80 562.8,136.80 563.1,136.80 563.5,136.80 563.8,136.80 564.2,136.80 564.5,136.80 564.9,136.80 565.2,136.80 565.6,136.80 565.9,136.80 566.3,136.80 566.6,136.80 567.0,136.80 567.3,136.80 567.7,136.80 568.0,136.80 568.4,136.80 568.7,136.80 569.1,136.80 569.4,136.80 569.8,136.80 570.1,136.80 570.5,136.80 570.8,136.80 571.2,136.80 571.5,136.80 571.9,136.80 572.2,136.80 572.6,136.80 572.9,136.80 573.3,136.80 573.6,136.80 574.0,136.80 574.3,136.80 574.7,136.80 575.0,136.80 575.4,136.80 575.7,136.80 576.1,136.80 576.4,136.80 576.8,136.80 577.1,136.80 577.5,136.80 577.8,136.80 578.2,136.80 578.5,136.80 578.9,136.80 579.2,136.80 579.6,136.80 579.9,136.80 580.3,136.80 580.6,136.80 581.0,136.80 581.3,136.80 581.7,136.80 582.0,136.80 582.4,136.80 582.7,136.80 583.1,136.80 583.4,136.80 583.8,136.80 584.1,136.80 584.5,136.80 584.8,136.80 585.2,136.80 585.5,136.80 585.9,136.80 586.2,136.80 586.6,136.80 586.9,136.80 587.3,136.80 587.6,136.80 588.0,136.80 588.3,136.80 588.7,136.80 589.0,136.80 589.4,136.80 589.7,136.80 590.1,136.80 590.4,136.80 590.8,136.80 591.1,136.80 591.5,136.80 591.8,136.80 592.2,136.80 592.5,136.80 592.9,136.80 593.2,136.80 593.6,136.80 593.9,136.80 594.3,136.80 594.6,136.80 595.0,136.80 595.3,136.80 595.7,136.80 596.0,136.80 596.4,136.80 596.7,136.80 597.1,136.80 597.4,136.80 597.8,136.80 598.1,136.80 598.5,136.80 598.8,136.80 599.2,136.80 599.5,136.80 599.9,136.80 600.2,136.80 600.6,136.80 600.9,136.80 601.3,136.80 601.6,136.80 602.0,136.80 602.3,136.80 602.7,136.80 603.0,136.80 603.4,136.80 603.7,136.80 604.1,136.80 604.4,136.80 604.8,136.80 605.1,136.80 605.5,136.80 605.8,136.80 606.2,136.80 606.5,136.80 606.9,136.80 607.2,136.80 607.6,136.80 607.9,136.80 608.3,136.80 608.6,136.80 609.0,136.80 609.3,136.80" fill="none" stroke="#5358c8" stroke-width="1.35" stroke-linejoin="round"/><path d="M24.2,265.30 24.6,265.81 24.9,266.33 25.3,266.84 25.6,267.35 26.0,267.87 26.3,268.38 26.7,268.89 27.0,269.41 27.4,269.75 27.7,269.87 28.1,269.99 28.4,270.12 28.8,270.24 29.1,270.36 29.5,270.48 29.8,270.60 30.2,270.40 30.5,270.20 30.9,269.99 31.2,269.79 31.6,269.59 31.9,269.39 32.3,269.19 32.6,268.93 33.0,268.63 33.3,268.33 33.7,268.04 34.0,267.74 34.4,267.44 34.7,267.61 35.1,267.84 35.4,268.08 35.8,268.32 36.1,268.56 36.5,268.67 36.8,268.58 37.2,268.50 37.5,268.42 37.9,268.34 38.2,268.26 38.6,268.18 38.9,268.10 39.3,268.36 39.6,268.61 40.0,268.87 40.3,269.12 40.7,269.38 41.0,269.63 41.4,269.89 41.7,270.02 42.1,270.07 42.4,270.11 42.8,270.15 43.1,270.19 43.5,270.24 43.8,270.28 44.2,270.32 44.5,270.36 44.9,270.40 45.2,270.40 45.6,270.40 45.9,270.40 46.3,270.40 46.6,270.40 47.0,270.40 47.3,270.40 47.7,270.40 48.0,270.40 48.4,270.46 48.7,270.53 49.1,270.59 49.4,270.65 49.8,270.72 50.1,270.78 50.5,270.85 50.8,270.91 51.2,270.97 51.5,270.85 51.9,270.60 52.2,270.34 52.6,270.09 52.9,269.83 53.3,269.57 53.6,269.32 54.0,269.14 54.3,269.39 54.7,269.65 55.0,269.90 55.4,270.16 55.7,270.42 56.1,270.67 56.4,270.93 56.8,271.15 57.1,271.37 57.5,271.58 57.8,271.80 58.2,272.02 58.5,272.23 58.9,272.45 59.2,272.61 59.6,272.66 59.9,272.70 60.3,272.74 60.6,272.79 61.0,272.83 61.3,272.88 61.7,272.92 62.0,272.96 62.4,272.97 62.7,272.80 63.1,272.62 63.4,272.45 63.8,272.27 64.1,272.10 64.5,271.92 64.8,271.75 65.2,271.80 65.5,271.94 65.9,272.07 66.2,272.21 66.6,272.35 66.9,272.49 67.3,272.63 67.6,272.76 68.0,272.90 68.3,272.97 68.7,272.88 69.0,272.79 69.4,272.71 69.7,272.62 70.1,272.53 70.4,272.44 70.8,272.35 71.1,272.26 71.5,272.17 71.8,272.08 72.2,272.02 72.5,272.12 72.9,272.23 73.2,272.34 73.5,272.45 73.9,272.56 74.2,272.67 74.6,272.78 74.9,272.89 75.3,273.00 75.6,272.86 76.0,272.72 76.3,272.59 76.7,272.45 77.0,272.31 77.4,272.17 77.7,272.03 78.1,271.90 78.4,271.76 78.8,271.74 79.1,271.82 79.5,271.90 79.8,271.98 80.2,272.06 80.5,272.13 80.9,272.21 81.2,272.29 81.6,272.37 81.9,272.44 82.3,272.52 82.6,272.60 83.0,272.68 83.3,272.72 83.7,272.76 84.0,272.79 84.4,272.82 84.7,272.85 85.1,272.88 85.4,272.92 85.8,272.95 86.1,272.98 86.5,273.01 86.8,273.05 87.2,273.08 87.5,273.11 87.9,273.14 88.2,273.18 88.6,273.21 88.9,273.24 89.3,273.27 89.6,273.30 90.0,273.30 90.3,273.30 90.7,273.30 91.0,273.30 91.4,273.30 91.7,273.30 92.1,273.30 92.4,273.30 92.8,273.30 93.1,273.30 93.5,273.30 93.8,273.30 94.2,273.30 94.5,273.30 94.9,273.30 95.2,273.30 95.6,273.30 95.9,273.30 96.3,273.30 96.6,273.31 97.0,273.31 97.3,273.31 97.7,273.31 98.0,273.31 98.4,273.31 98.7,273.31 99.1,273.31 99.4,273.31 99.8,273.31 100.1,273.31 100.5,273.31 100.8,273.31 101.2,273.31 101.5,273.31 101.9,273.31 102.2,273.31 102.6,273.31 102.9,273.31 103.3,273.31 103.6,273.31 104.0,273.31 104.3,273.31 104.7,273.31 105.0,273.31 105.4,273.31 105.7,273.31 106.1,273.31 106.4,273.31 106.8,273.31 107.1,273.31 107.5,273.31 107.8,273.31 108.2,273.31 108.5,273.31 108.9,273.31 109.2,273.31 109.6,273.31 109.9,273.31 110.3,273.31 110.6,273.31 111.0,273.32 111.3,273.32 111.7,273.32 112.0,273.32 112.4,273.32 112.7,273.32 113.1,273.32 113.4,273.32 113.8,273.32 114.1,273.32 114.5,273.32 114.8,273.32 115.2,273.32 115.5,273.32 115.9,273.32 116.2,273.32 116.6,273.32 116.9,273.32 117.3,273.32 117.6,273.32 118.0,273.32 118.3,273.32 118.7,273.32 119.0,273.32 119.4,273.32 119.7,273.32 120.1,273.32 120.4,273.32 120.8,273.32 121.1,273.32 121.5,273.32 121.8,273.32 122.2,273.32 122.5,273.32 122.9,273.32 123.2,273.32 123.6,273.32 123.9,273.32 124.3,273.32 124.6,273.32 125.0,273.33 125.3,273.33 125.7,273.33 126.0,273.33 126.4,273.33 126.7,273.33 127.1,273.33 127.4,273.33 127.8,273.33 128.1,273.33 128.5,273.33 128.8,273.33 129.2,273.33 129.5,273.33 129.9,273.33 130.2,273.33 130.6,273.33 130.9,273.33 131.3,273.33 131.6,273.33 132.0,273.33 132.3,273.33 132.7,273.33 133.0,273.33 133.4,273.33 133.7,273.33 134.1,273.33 134.4,273.33 134.8,273.33 135.1,273.33 135.5,273.33 135.8,273.33 136.2,273.33 136.5,273.33 136.9,273.33 137.2,273.33 137.6,273.33 137.9,273.33 138.3,273.33 138.6,273.33 139.0,273.34 139.3,273.34 139.7,273.34 140.0,273.34 140.4,273.34 140.7,273.34 141.1,273.34 141.4,273.34 141.8,273.34 142.1,273.34 142.5,273.34 142.8,273.34 143.2,273.34 143.5,273.34 143.9,273.34 144.2,273.34 144.6,273.34 144.9,273.34 145.3,273.34 145.6,273.34 146.0,273.34 146.3,273.34 146.7,273.34 147.0,273.34 147.4,273.34 147.7,273.34 148.1,273.34 148.4,273.34 148.8,273.34 149.1,273.34 149.5,273.34 149.8,273.34 150.2,273.34 150.5,273.34 150.9,273.34 151.2,273.34 151.6,273.34 151.9,273.34 152.3,273.34 152.6,273.34 153.0,273.35 153.3,273.35 153.7,273.35 154.0,273.35 154.4,273.35 154.7,273.35 155.1,273.35 155.4,273.35 155.8,273.35 156.1,273.35 156.5,273.35 156.8,273.35 157.2,273.35 157.5,273.35 157.9,273.35 158.2,273.35 158.6,273.35 158.9,273.35 159.3,273.35 159.6,273.35 160.0,273.35 160.3,273.35 160.7,273.35 161.0,273.35 161.4,273.35 161.7,273.35 162.1,273.35 162.4,273.35 162.8,273.35 163.1,273.35 163.5,273.35 163.8,273.35 164.2,273.35 164.5,273.35 164.9,273.35 165.2,273.35 165.6,273.35 165.9,273.35 166.3,273.35 166.6,273.35 167.0,273.36 167.3,273.36 167.7,273.36 168.0,273.36 168.4,273.36 168.7,273.36 169.1,273.36 169.4,273.36 169.8,273.36 170.1,273.36 170.5,273.36 170.8,273.36 171.2,273.36 171.5,273.36 171.9,273.36 172.2,273.36 172.6,273.36 172.9,273.36 173.3,273.36 173.6,273.36 174.0,273.36 174.3,273.36 174.7,273.36 175.0,273.36 175.4,273.36 175.7,273.36 176.1,273.36 176.4,273.36 176.8,273.36 177.1,273.36 177.5,273.36 177.8,273.36 178.2,273.36 178.5,273.36 178.9,273.36 179.2,273.36 179.6,273.36 179.9,273.36 180.3,273.36 180.6,273.36 181.0,273.37 181.3,273.37 181.7,273.37 182.0,273.37 182.4,273.37 182.7,273.37 183.1,273.37 183.4,273.37 183.8,273.37 184.1,273.37 184.5,273.37 184.8,273.37 185.2,273.37 185.5,273.37 185.9,273.37 186.2,273.37 186.6,273.37 186.9,273.37 187.3,273.37 187.6,273.37 188.0,273.37 188.3,273.37 188.7,273.37 189.0,273.37 189.4,273.37 189.7,273.37 190.1,273.37 190.4,273.37 190.8,273.37 191.1,273.37 191.5,273.37 191.8,273.37 192.2,273.37 192.5,273.37 192.9,273.37 193.2,273.37 193.6,273.37 193.9,273.37 194.3,273.37 194.6,273.37 195.0,273.38 195.3,273.38 195.7,273.38 196.0,273.38 196.4,273.38 196.7,273.38 197.1,273.38 197.4,273.38 197.8,273.38 198.1,273.38 198.5,273.38 198.8,273.38 199.2,273.38 199.5,273.38 199.9,273.38 200.2,273.38 200.6,273.38 200.9,273.38 201.3,273.38 201.6,273.38 202.0,273.38 202.3,273.38 202.7,273.38 203.0,273.38 203.4,273.38 203.7,273.38 204.1,273.38 204.4,273.38 204.8,273.38 205.1,273.38 205.5,273.38 205.8,273.38 206.2,273.38 206.5,273.38 206.9,273.38 207.2,273.38 207.6,273.38 207.9,273.38 208.3,273.38 208.6,273.38 209.0,273.39 209.3,273.39 209.7,273.39 210.0,273.39 210.4,273.39 210.7,273.39 211.1,273.39 211.4,273.39 211.8,273.39 212.1,273.39 212.5,273.39 212.8,273.39 213.2,273.39 213.5,273.39 213.9,273.39 214.2,273.39 214.6,273.39 214.9,273.39 215.3,273.39 215.6,273.39 216.0,273.39 216.3,273.39 216.7,273.39 217.0,273.39 217.4,273.39 217.7,273.39 218.1,273.39 218.4,273.39 218.8,273.39 219.1,273.39 219.5,273.39 219.8,273.39 220.2,273.39 220.5,273.39 220.9,273.39 221.2,273.39 221.6,273.39 221.9,273.39 222.3,273.39 222.6,273.39 223.0,273.40 223.3,273.40 223.7,273.40 224.0,273.40 224.4,273.40 224.7,273.40 225.1,273.40 225.4,273.40 225.8,273.40 226.1,273.40 226.5,273.40 226.8,273.40 227.2,273.40 227.5,273.40 227.9,273.40 228.2,273.40 228.6,273.40 228.9,273.40 229.3,273.40 229.6,273.40 230.0,273.40 230.3,273.40 230.7,273.40 231.0,273.39 231.4,273.38 231.7,273.36 232.1,273.31 232.4,273.21 232.8,273.01 233.1,272.68 233.5,272.21 233.8,271.60 234.2,270.95 234.5,270.38 234.9,270.04 235.2,270.01 235.6,270.26 235.9,270.73 236.3,271.32 236.6,271.90 237.0,272.41 237.3,272.79 237.7,273.05 238.0,273.21 238.4,273.29 238.7,273.34 239.1,273.36 239.4,273.36 239.8,273.37 240.1,273.37 240.5,273.36 240.8,273.36 241.2,273.36 241.5,273.36 241.9,273.36 242.2,273.36 242.6,273.36 242.9,273.36 243.3,273.36 243.6,273.35 244.0,273.35 244.3,273.35 244.7,273.35 245.0,273.35 245.4,273.35 245.7,273.35 246.1,273.35 246.4,273.35 246.8,273.34 247.1,273.34 247.5,273.34 247.8,273.34 248.2,273.34 248.5,273.34 248.9,273.34 249.2,273.34 249.6,273.33 249.9,273.33 250.3,273.33 250.6,273.32 251.0,273.31 251.3,273.29 251.7,273.27 252.0,273.22 252.4,273.16 252.7,273.06 253.1,272.95 253.4,272.81 253.8,272.65 254.1,272.50 254.5,272.36 254.8,272.27 255.2,272.22 255.5,272.23 255.9,272.30 256.2,272.41 256.6,272.56 256.9,272.71 257.3,272.86 257.6,272.99 258.0,273.09 258.3,273.17 258.7,273.22 259.0,273.25 259.4,273.28 259.7,273.29 260.1,273.29 260.4,273.30 260.8,273.30 261.1,273.30 261.5,273.29 261.8,273.29 262.2,273.29 262.5,273.29 262.9,273.29 263.2,273.29 263.6,273.29 263.9,273.29 264.3,273.29 264.6,273.28 265.0,273.28 265.3,273.28 265.7,273.28 266.0,273.28 266.4,273.28 266.7,273.28 267.1,273.28 267.4,273.28 267.8,273.27 268.1,273.27 268.5,273.27 268.8,273.27 269.2,273.27 269.5,273.27 269.9,273.27 270.2,273.27 270.6,273.26 270.9,273.26 271.3,273.26 271.6,273.26 272.0,273.26 272.3,273.26 272.7,273.26 273.0,273.26 273.4,273.26 273.7,273.25 274.1,273.25 274.4,273.25 274.8,273.25 275.1,273.25 275.5,273.25 275.8,273.25 276.2,273.25 276.5,273.24 276.9,273.24 277.2,273.24 277.6,273.24 277.9,273.24 278.3,273.24 278.6,273.24 279.0,273.24 279.3,273.24 279.7,273.23 280.0,273.23 280.4,273.23 280.7,273.23 281.1,273.23 281.4,273.23 281.8,273.23 282.1,273.23 282.5,273.22 282.8,273.22 283.2,273.22 283.5,273.22 283.9,273.22 284.2,273.22 284.6,273.22 284.9,273.22 285.3,273.22 285.6,273.21 286.0,273.21 286.3,273.21 286.7,273.20 287.0,273.19 287.4,273.16 287.7,273.11 288.1,273.02 288.4,272.88 288.8,272.68 289.1,272.40 289.5,272.07 289.8,271.71 290.2,271.38 290.5,271.12 290.9,270.99 291.2,271.01 291.6,271.13 291.9,271.33 292.3,271.59 292.6,271.87 293.0,272.15 293.3,272.40 293.7,272.62 294.0,272.78 294.4,272.91 294.7,272.99 295.1,273.04 295.4,273.08 295.8,273.09 296.1,273.10 296.5,273.10 296.8,273.10 297.2,273.10 297.5,273.09 297.9,273.09 298.2,273.08 298.6,273.08 298.9,273.07 299.3,273.07 299.6,273.06 300.0,273.06 300.3,273.05 300.7,273.05 301.0,273.04 301.4,273.04 301.8,273.03 302.1,273.03 302.5,273.02 302.8,273.02 303.2,273.01 303.5,273.01 303.9,273.00 304.2,273.00 304.6,272.99 304.9,272.99 305.3,272.98 305.6,272.98 306.0,272.97 306.3,272.97 306.7,272.96 307.0,272.95 307.4,272.94 307.7,272.91 308.1,272.87 308.4,272.80 308.8,272.66 309.1,272.44 309.5,272.06 309.8,271.47 310.2,270.58 310.5,269.30 310.9,267.57 311.2,265.33 311.6,262.57 311.9,259.36 312.3,255.81 312.6,252.11 313.0,248.48 313.3,245.16 313.7,242.36 314.0,240.24 314.4,238.89 314.7,238.31 315.1,238.45 315.4,239.19 315.8,240.39 316.1,241.91 316.5,243.62 316.8,245.42 317.2,247.23 317.5,248.99 317.9,250.68 318.2,252.27 318.6,253.76 318.9,255.15 319.3,256.44 319.6,257.64 320.0,258.75 320.3,259.77 320.7,260.72 321.0,261.60 321.4,262.41 321.7,263.16 322.1,263.85 322.4,264.49 322.8,265.07 323.1,265.61 323.5,266.11 323.8,266.56 324.2,266.98 324.5,267.36 324.9,267.71 325.2,268.02 325.6,268.31 325.9,268.57 326.3,268.81 326.6,269.02 327.0,269.21 327.3,269.39 327.7,269.55 328.0,269.70 328.4,269.83 328.7,269.96 329.1,270.07 329.4,270.18 329.8,270.29 330.1,270.39 330.5,270.49 330.8,270.58 331.2,270.68 331.5,270.77 331.9,270.86 332.2,270.94 332.6,271.02 332.9,271.09 333.3,271.17 333.6,271.24 334.0,271.30 334.3,271.37 334.7,271.43 335.0,271.49 335.4,271.54 335.7,271.59 336.1,271.64 336.4,271.68 336.8,271.71 337.1,271.73 337.5,271.74 337.8,271.74 338.2,271.72 338.5,271.70 338.9,271.67 339.2,271.64 339.6,271.61 339.9,271.59 340.3,271.57 340.6,271.58 341.0,271.60 341.3,271.64 341.7,271.69 342.0,271.77 342.4,271.86 342.7,271.95 343.1,272.05 343.4,272.14 343.8,272.23 344.1,272.32 344.5,272.39 344.8,272.45 345.2,272.49 345.5,272.53 345.9,272.57 346.2,272.59 346.6,272.61 346.9,272.63 347.3,272.64 347.6,272.65 348.0,272.66 348.3,272.66 348.7,272.67 349.0,272.68 349.4,272.68 349.7,272.68 350.1,272.69 350.4,272.69 350.8,272.69 351.1,272.69 351.5,272.70 351.8,272.70 352.2,272.70 352.5,272.70 352.9,272.70 353.2,272.70 353.6,272.70 353.9,272.70 354.3,272.70 354.6,272.70 355.0,272.70 355.3,272.70 355.7,272.70 356.0,272.70 356.4,272.70 356.7,272.70 357.1,272.69 357.4,272.69 357.8,272.69 358.1,272.69 358.5,272.69 358.8,272.69 359.2,272.69 359.5,272.69 359.9,272.69 360.2,272.68 360.6,272.68 360.9,272.68 361.3,272.68 361.6,272.68 362.0,272.68 362.3,272.68 362.7,272.67 363.0,272.67 363.4,272.67 363.7,272.67 364.1,272.67 364.4,272.67 364.8,272.67 365.1,272.66 365.5,272.66 365.8,272.66 366.2,272.66 366.5,272.66 366.9,272.66 367.2,272.66 367.6,272.65 367.9,272.65 368.3,272.65 368.6,272.65 369.0,272.65 369.3,272.65 369.7,272.64 370.0,272.64 370.4,272.64 370.7,272.64 371.1,272.64 371.4,272.64 371.8,272.64 372.1,272.63 372.5,272.63 372.8,272.63 373.2,272.63 373.5,272.63 373.9,272.63 374.2,272.63 374.6,272.62 374.9,272.62 375.3,272.62 375.6,272.62 376.0,272.62 376.3,272.62 376.7,272.61 377.0,272.61 377.4,272.61 377.7,272.60 378.1,272.60 378.4,272.58 378.8,272.56 379.1,272.52 379.5,272.44 379.8,272.32 380.2,272.11 380.5,271.79 380.9,271.29 381.2,270.55 381.6,269.52 381.9,268.12 382.3,266.29 382.6,264.02 383.0,261.29 383.3,258.17 383.7,254.75 384.0,251.18 384.4,247.65 384.7,244.36 385.1,241.49 385.4,239.22 385.8,237.65 386.1,236.85 386.5,236.79 386.8,237.42 387.2,238.63 387.5,240.29 387.9,242.26 388.2,244.42 388.6,246.65 388.9,248.87 389.3,251.02 389.6,253.05 390.0,254.94 390.3,256.67 390.7,258.25 391.0,259.69 391.4,260.99 391.7,262.16 392.1,263.21 392.4,264.16 392.8,265.02 393.1,265.79 393.5,266.48 393.8,267.10 394.2,267.66 394.5,268.17 394.9,268.62 395.2,269.03 395.6,269.40 395.9,269.73 396.3,270.02 396.6,270.29 397.0,270.53 397.3,270.75 397.7,270.94 398.0,271.12 398.4,271.27 398.7,271.42 399.1,271.55 399.4,271.66 399.8,271.76 400.1,271.86 400.5,271.94 400.8,272.02 401.2,272.09 401.5,272.15 401.9,272.20 402.2,272.25 402.6,272.30 402.9,272.34 403.3,272.38 403.6,272.41 404.0,272.44 404.3,272.47 404.7,272.49 405.0,272.51 405.4,272.53 405.7,272.55 406.1,272.57 406.4,272.58 406.8,272.60 407.1,272.61 407.5,272.62 407.8,272.63 408.2,272.64 408.5,272.65 408.9,272.66 409.2,272.66 409.6,272.67 409.9,272.68 410.3,272.68 410.6,272.69 411.0,272.69 411.3,272.70 411.7,272.70 412.0,272.71 412.4,272.71 412.7,272.71 413.1,272.72 413.4,272.72 413.8,272.72 414.1,272.72 414.5,272.73 414.8,272.73 415.2,272.73 415.5,272.73 415.9,272.73 416.2,272.72 416.6,272.71 416.9,272.69 417.3,272.65 417.6,272.59 418.0,272.51 418.3,272.41 418.7,272.28 419.0,272.15 419.4,272.01 419.7,271.89 420.1,271.80 420.4,271.76 420.8,271.78 421.1,271.84 421.5,271.95 421.8,272.08 422.2,272.22 422.5,272.36 422.9,272.48 423.2,272.57 423.6,272.65 423.9,272.70 424.3,272.73 424.6,272.75 425.0,272.77 425.3,272.77 425.7,272.78 426.0,272.78 426.4,272.78 426.7,272.79 427.1,272.79 427.4,272.79 427.8,272.79 428.1,272.79 428.5,272.79 428.8,272.80 429.2,272.80 429.5,272.80 429.9,272.80 430.2,272.80 430.6,272.80 430.9,272.80 431.3,272.80 431.6,272.80 432.0,272.80 432.3,272.79 432.7,272.79 433.0,272.79 433.4,272.79 433.7,272.79 434.1,272.79 434.4,272.79 434.8,272.79 435.1,272.79 435.5,272.79 435.8,272.79 436.2,272.79 436.5,272.79 436.9,272.78 437.2,272.78 437.6,272.78 437.9,272.78 438.3,272.78 438.6,272.78 439.0,272.78 439.3,272.78 439.7,272.78 440.0,272.78 440.4,272.78 440.7,272.78 441.1,272.78 441.4,272.77 441.8,272.77 442.1,272.77 442.5,272.77 442.8,272.77 443.2,272.77 443.5,272.77 443.9,272.77 444.2,272.77 444.6,272.77 444.9,272.77 445.3,272.77 445.6,272.77 446.0,272.76 446.3,272.76 446.7,272.76 447.0,272.76 447.4,272.76 447.7,272.76 448.1,272.76 448.4,272.76 448.8,272.76 449.1,272.76 449.5,272.76 449.8,272.76 450.2,272.76 450.5,272.75 450.9,272.75 451.2,272.75 451.6,272.75 451.9,272.75 452.3,272.75 452.6,272.75 453.0,272.75 453.3,272.75 453.7,272.75 454.0,272.75 454.4,272.75 454.7,272.75 455.1,272.74 455.4,272.74 455.8,272.74 456.1,272.74 456.5,272.74 456.8,272.74 457.2,272.74 457.5,272.74 457.9,272.74 458.2,272.74 458.6,272.74 458.9,272.74 459.3,272.74 459.6,272.73 460.0,272.73 460.3,272.73 460.7,272.73 461.0,272.73 461.4,272.73 461.7,272.73 462.1,272.73 462.4,272.73 462.8,272.73 463.1,272.73 463.5,272.73 463.8,272.73 464.2,272.72 464.5,272.72 464.9,272.72 465.2,272.72 465.6,272.72 465.9,272.72 466.3,272.72 466.6,272.72 467.0,272.72 467.3,272.72 467.7,272.72 468.0,272.72 468.4,272.71 468.7,272.71 469.1,272.71 469.4,272.71 469.8,272.71 470.1,272.71 470.5,272.71 470.8,272.71 471.2,272.71 471.5,272.71 471.9,272.71 472.2,272.71 472.6,272.71 472.9,272.70 473.3,272.70 473.6,272.70 474.0,272.70 474.3,272.70 474.7,272.70 475.0,272.70 475.4,272.70 475.7,272.70 476.1,272.70 476.4,272.70 476.8,272.70 477.1,272.70 477.5,272.69 477.8,272.69 478.2,272.69 478.5,272.69 478.9,272.69 479.2,272.69 479.6,272.69 479.9,272.69 480.3,272.69 480.6,272.69 481.0,272.69 481.3,272.69 481.7,272.69 482.0,272.68 482.4,272.68 482.7,272.68 483.1,272.68 483.4,272.68 483.8,272.68 484.1,272.67 484.5,272.67 484.8,272.67 485.2,272.66 485.5,272.65 485.9,272.65 486.2,272.64 486.6,272.63 486.9,272.61 487.3,272.59 487.6,272.57 488.0,272.55 488.3,272.52 488.7,272.50 489.0,272.46 489.4,272.43 489.7,272.39 490.1,272.36 490.4,272.32 490.8,272.29 491.1,272.26 491.5,272.23 491.8,272.20 492.2,272.18 492.5,272.17 492.9,272.16 493.2,272.16 493.6,272.17 493.9,272.18 494.3,272.20 494.6,272.22 495.0,272.25 495.3,272.28 495.7,272.32 496.0,272.35 496.4,272.38 496.7,272.42 497.1,272.45 497.4,272.48 497.8,272.51 498.1,272.53 498.5,272.55 498.8,272.57 499.2,272.59 499.5,272.60 499.9,272.61 500.2,272.62 500.6,272.62 500.9,272.63 501.3,272.63 501.6,272.63 502.0,272.63 502.3,272.64 502.7,272.64 503.0,272.64 503.4,272.64 503.7,272.64 504.1,272.64 504.4,272.63 504.8,272.63 505.1,272.63 505.5,272.63 505.8,272.63 506.2,272.63 506.5,272.63 506.9,272.63 507.2,272.63 507.6,272.63 507.9,272.63 508.3,272.63 508.6,272.63 509.0,272.62 509.3,272.62 509.7,272.62 510.0,272.62 510.4,272.62 510.7,272.62 511.1,272.62 511.4,272.62 511.8,272.62 512.1,272.62 512.5,272.62 512.8,272.62 513.2,272.62 513.5,272.61 513.9,272.61 514.2,272.61 514.6,272.61 514.9,272.61 515.3,272.61 515.6,272.61 516.0,272.61 516.3,272.61 516.7,272.61 517.0,272.61 517.4,272.61 517.7,272.61 518.1,272.60 518.4,272.60 518.8,272.60 519.1,272.60 519.5,272.60 519.8,272.60 520.2,272.60 520.5,272.60 520.9,272.60 521.2,272.60 521.6,272.60 521.9,272.60 522.3,272.60 522.6,272.59 523.0,272.59 523.3,272.59 523.7,272.59 524.0,272.59 524.4,272.59 524.7,272.59 525.1,272.59 525.4,272.59 525.8,272.59 526.1,272.59 526.5,272.59 526.8,272.59 527.2,272.58 527.5,272.58 527.9,272.58 528.2,272.58 528.6,272.58 528.9,272.58 529.3,272.58 529.6,272.58 530.0,272.58 530.3,272.58 530.7,272.58 531.0,272.58 531.4,272.58 531.7,272.57 532.1,272.57 532.4,272.57 532.8,272.57 533.1,272.57 533.5,272.57 533.8,272.57 534.2,272.57 534.5,272.57 534.9,272.57 535.2,272.57 535.6,272.57 535.9,272.57 536.3,272.56 536.6,272.56 537.0,272.56 537.3,272.56 537.7,272.56 538.0,272.56 538.4,272.56 538.7,272.56 539.1,272.56 539.4,272.56 539.8,272.56 540.1,272.56 540.5,272.56 540.8,272.55 541.2,272.55 541.5,272.55 541.9,272.55 542.2,272.55 542.6,272.55 542.9,272.55 543.3,272.55 543.6,272.55 544.0,272.55 544.3,272.55 544.7,272.55 545.0,272.55 545.4,272.54 545.7,272.54 546.1,272.54 546.4,272.54 546.8,272.54 547.1,272.54 547.5,272.54 547.8,272.54 548.2,272.54 548.5,272.54 548.9,272.54 549.2,272.54 549.6,272.53 549.9,272.53 550.3,272.53 550.6,272.53 551.0,272.53 551.3,272.53 551.7,272.53 552.0,272.53 552.4,272.53 552.7,272.53 553.1,272.53 553.4,272.53 553.8,272.53 554.1,272.52 554.5,272.52 554.8,272.52 555.2,272.52 555.5,272.52 555.9,272.52 556.2,272.52 556.6,272.52 556.9,272.52 557.3,272.52 557.6,272.52 558.0,272.52 558.3,272.52 558.7,272.51 559.0,272.51 559.4,272.51 559.7,272.51 560.1,272.51 560.4,272.51 560.8,272.51 561.1,272.51 561.5,272.51 561.8,272.51 562.2,272.51 562.5,272.51 562.9,272.51 563.2,272.50 563.6,272.50 563.9,272.50 564.3,272.50 564.6,272.50 565.0,272.50 565.3,272.50 565.7,272.50 566.0,272.50 566.4,272.50 566.7,272.50 567.1,272.50 567.4,272.50 567.8,272.49 568.1,272.49 568.5,272.49 568.8,272.49 569.2,272.49 569.5,272.49 569.9,272.49 570.2,272.49 570.6,272.49 570.9,272.49 571.3,272.49 571.6,272.49 572.0,272.49 572.3,272.48 572.7,272.48 573.0,272.48 573.4,272.48 573.7,272.48 574.1,272.48 574.4,272.48 574.8,272.48 575.1,272.48 575.5,272.48 575.8,272.48 576.2,272.48 576.5,272.48 576.9,272.47 577.2,272.47 577.6,272.47 577.9,272.47 578.3,272.47 578.6,272.47 579.0,272.47 579.3,272.47 579.7,272.47 580.0,272.47 580.4,272.47 580.7,272.47 581.1,272.47 581.4,272.46 581.8,272.46 582.1,272.46 582.5,272.46 582.8,272.46 583.2,272.46 583.5,272.46 583.9,272.46 584.2,272.46 584.6,272.46 584.9,272.46 585.3,272.46 585.6,272.45 586.0,272.45 586.3,272.45 586.7,272.45 587.0,272.45 587.4,272.45 587.7,272.45 588.1,272.45 588.4,272.45 588.8,272.45 589.1,272.45 589.5,272.45 589.8,272.45 590.2,272.44 590.5,272.44 590.9,272.44 591.2,272.44 591.6,272.44 591.9,272.44 592.3,272.44 592.6,272.44 593.0,272.44 593.3,272.44 593.7,272.44 594.0,272.44 594.4,272.44 594.7,272.43 595.1,272.43 595.4,272.43 595.8,272.43 596.1,272.43 596.5,272.43 596.8,272.43 597.2,272.43 597.5,272.43 597.9,272.43 598.2,272.43 598.6,272.43 598.9,272.43 599.3,272.42 599.6,272.42 600.0,272.42 600.3,272.42 600.7,272.42 601.0,272.42 601.4,272.42 601.7,272.42 602.1,272.42 602.4,272.42 602.8,272.42 603.1,272.42 603.5,272.42 603.8,272.41 604.2,272.41 604.5,272.41 604.9,272.41 605.2,272.41 605.6,272.41 605.9,272.41 606.3,272.41 606.6,272.41 607.0,272.41 607.3,272.41 607.7,272.41 608.0,272.41 608.4,272.40 608.7,272.40 609.1,272.40 609.4,272.40 609.8,272.40 610.1,272.40" fill="none" stroke="#df6666" stroke-width="1.3" stroke-linejoin="round"/><text x="121.9" y="58.5" text-anchor="middle" font-family="Liberation Serif" font-weight="bold" font-size="10.2" fill="#000">1</text><line x1="122.4" y1="62.4" x2="122.98" y2="133.80" stroke="#444" stroke-width="0.85"/><polygon points="123.01,137.1 121.08,133.82 124.88,133.78" fill="#111"/><text x="199.2" y="69.5" text-anchor="middle" font-family="Liberation Serif" font-weight="bold" font-size="10.2" fill="#000">5</text><line x1="199.2" y1="72.1" x2="201.98" y2="134.50" stroke="#444" stroke-width="0.85"/><polygon points="202.13,137.8 200.08,134.59 203.88,134.42" fill="#111"/><text x="213.5" y="84.8" text-anchor="middle" font-family="Liberation Serif" font-weight="bold" font-size="10.2" fill="#000">6</text><line x1="213.6" y1="88.6" x2="214.64" y2="134.20" stroke="#444" stroke-width="0.85"/><polygon points="214.72,137.5 212.75,134.24 216.54,134.16" fill="#111"/><text x="222.6" y="53.2" text-anchor="middle" font-family="Liberation Serif" font-weight="bold" font-size="10.2" fill="#000">8</text><line x1="223.2" y1="56.2" x2="221.85" y2="128.70" stroke="#444" stroke-width="0.85"/><polygon points="221.79,132.0 219.95,128.67 223.75,128.74" fill="#111"/><text x="270.4" y="107.9" text-anchor="middle" font-family="Liberation Serif" font-weight="bold" font-size="10.2" fill="#000">13</text><line x1="270.7" y1="110" x2="271.06" y2="133.80" stroke="#444" stroke-width="0.85"/><polygon points="271.11,137.1 269.16,133.83 272.96,133.77" fill="#111"/><text x="291.2" y="96.8" text-anchor="middle" font-family="Liberation Serif" font-weight="bold" font-size="10.2" fill="#000">19</text><line x1="291.4" y1="99.2" x2="291.22" y2="133.80" stroke="#444" stroke-width="0.85"/><polygon points="291.2,137.1 289.32,133.79 293.12,133.81" fill="#111"/><text x="302.4" y="102.6" text-anchor="middle" font-family="Liberation Serif" font-weight="bold" font-size="10.2" fill="#000">20</text><line x1="304.2" y1="104.8" x2="300.08" y2="132.92" stroke="#444" stroke-width="0.85"/><polygon points="299.6,136.19 298.20,132.65 301.96,133.20" fill="#111"/><text x="318.5" y="102.6" text-anchor="middle" font-family="Liberation Serif" font-weight="bold" font-size="10.2" fill="#000">21</text><line x1="316.6" y1="104.8" x2="316.60" y2="132.40" stroke="#444" stroke-width="0.85"/><polygon points="316.6,135.7 314.70,132.40 318.50,132.40" fill="#111"/><text x="332.5" y="87.6" text-anchor="middle" font-family="Liberation Serif" font-weight="bold" font-size="10.2" fill="#000">22–24</text><line x1="334.8" y1="93.8" x2="340.81" y2="133.73" stroke="#444" stroke-width="0.85"/><polygon points="341.3,136.99 338.93,134.01 342.69,133.44" fill="#111"/><text x="370.3" y="69.9" text-anchor="middle" font-family="Liberation Serif" font-weight="bold" font-size="10.2" fill="#000">25</text><line x1="369.2" y1="72.3" x2="375.72" y2="133.72" stroke="#444" stroke-width="0.85"/><polygon points="376.07,137.0 373.83,133.92 377.61,133.52" fill="#111"/><text x="392" y="103.1" text-anchor="middle" font-family="Liberation Serif" font-weight="bold" font-size="10.2" fill="#000">26</text><line x1="391.1" y1="105.2" x2="388.75" y2="130.61" stroke="#444" stroke-width="0.85"/><polygon points="388.44,133.9 386.85,130.44 390.64,130.79" fill="#111"/><text x="403.7" y="69.9" text-anchor="middle" font-family="Liberation Serif" font-weight="bold" font-size="10.2" fill="#000">27–30</text><line x1="402.9" y1="71" x2="417.49" y2="131.77" stroke="#444" stroke-width="0.85"/><polygon points="418.26,134.98 415.64,132.21 419.34,131.33" fill="#111"/><text x="419.1" y="45.1" text-anchor="middle" font-family="Liberation Serif" font-weight="bold" font-size="10.2" fill="#000">31-32</text><line x1="421.1" y1="49.8" x2="421.58" y2="130.80" stroke="#444" stroke-width="0.85"/><polygon points="421.6,134.1 419.68,130.81 423.48,130.79" fill="#111"/><text x="439.7" y="103.1" text-anchor="middle" font-family="Liberation Serif" font-weight="bold" font-size="10.2" fill="#000">33–34</text><line x1="439.7" y1="105.4" x2="431.13" y2="130.93" stroke="#444" stroke-width="0.85"/><polygon points="430.08,134.06 429.33,130.33 432.93,131.54" fill="#111"/><text x="449" y="67.6" text-anchor="middle" font-family="Liberation Serif" font-weight="bold" font-size="10.2" fill="#000">35</text><line x1="449.6" y1="69.5" x2="465.38" y2="133.78" stroke="#444" stroke-width="0.85"/><polygon points="466.17,136.98 463.54,134.23 467.23,133.32" fill="#111"/><text x="473.8" y="87.3" text-anchor="middle" font-family="Liberation Serif" font-weight="bold" font-size="10.2" fill="#000">36</text><line x1="473.3" y1="89.2" x2="473.68" y2="133.00" stroke="#444" stroke-width="0.85"/><polygon points="473.71,136.3 471.78,133.02 475.58,132.98" fill="#111"/><text x="494" y="68.9" text-anchor="middle" font-family="Liberation Serif" font-weight="bold" font-size="10.2" fill="#000">37</text><line x1="492.6" y1="72.1" x2="481.57" y2="133.04" stroke="#444" stroke-width="0.85"/><polygon points="480.98,136.29 479.70,132.70 483.44,133.38" fill="#111"/><text x="515" y="107.4" text-anchor="middle" font-family="Liberation Serif" font-weight="bold" font-size="10.2" fill="#000">39</text><line x1="515" y1="109.8" x2="515.00" y2="133.70" stroke="#444" stroke-width="0.85"/><polygon points="515.0,137.0 513.10,133.70 516.90,133.70" fill="#111"/><text x="120.7" y="204.1" text-anchor="middle" font-family="Liberation Serif" font-weight="bold" font-size="10.2" fill="#000">1</text><line x1="121" y1="209.2" x2="121.67" y2="268.50" stroke="#444" stroke-width="0.85"/><polygon points="121.71,271.8 119.77,268.52 123.57,268.48" fill="#111"/><text x="128.4" y="222.4" text-anchor="middle" font-family="Liberation Serif" font-weight="bold" font-size="10.2" fill="#000">2</text><line x1="129.3" y1="227.3" x2="134.29" y2="269.02" stroke="#444" stroke-width="0.85"/><polygon points="134.68,272.3 132.40,269.25 136.17,268.80" fill="#111"/><text x="172.5" y="236.2" text-anchor="middle" font-family="Liberation Serif" font-weight="bold" font-size="10.2" fill="#000">3</text><line x1="172.1" y1="239.1" x2="178.27" y2="268.76" stroke="#444" stroke-width="0.85"/><polygon points="178.94,271.99 176.41,269.15 180.13,268.37" fill="#111"/><text x="182.4" y="213.2" text-anchor="middle" font-family="Liberation Serif" font-weight="bold" font-size="10.2" fill="#000">4</text><line x1="182.7" y1="215.2" x2="184.32" y2="268.70" stroke="#444" stroke-width="0.85"/><polygon points="184.42,272.0 182.42,268.76 186.22,268.64" fill="#111"/><text x="205.6" y="202.5" text-anchor="middle" font-family="Liberation Serif" font-weight="bold" font-size="10.2" fill="#000">7</text><line x1="205.7" y1="208.9" x2="211.16" y2="268.31" stroke="#444" stroke-width="0.85"/><polygon points="211.46,271.6 209.27,268.49 213.05,268.14" fill="#111"/><text x="226.9" y="247.0" text-anchor="middle" font-family="Liberation Serif" font-weight="bold" font-size="10.2" fill="#000">9</text><line x1="229" y1="249.5" x2="233.31" y2="265.30" stroke="#444" stroke-width="0.85"/><polygon points="234.18,268.48 231.48,265.80 235.14,264.80" fill="#111"/><text x="243.2" y="233.6" text-anchor="middle" font-family="Liberation Serif" font-weight="bold" font-size="10.2" fill="#000">10</text><line x1="243.3" y1="235.8" x2="246.53" y2="266.92" stroke="#444" stroke-width="0.85"/><polygon points="246.87,270.2 244.64,267.11 248.42,266.72" fill="#111"/><text x="252" y="201.6" text-anchor="middle" font-family="Liberation Serif" font-weight="bold" font-size="10.2" fill="#000">11–12</text><line x1="251.6" y1="206.8" x2="255.53" y2="266.91" stroke="#444" stroke-width="0.85"/><polygon points="255.75,270.2 253.64,267.03 257.43,266.78" fill="#111"/><text x="266.4" y="241.8" text-anchor="middle" font-family="Liberation Serif" font-weight="bold" font-size="10.2" fill="#000">13</text><line x1="268.4" y1="246.4" x2="268.49" y2="266.20" stroke="#444" stroke-width="0.85"/><polygon points="268.5,269.5 266.59,266.21 270.39,266.19" fill="#111"/><text x="278" y="220.8" text-anchor="middle" font-family="Liberation Serif" font-weight="bold" font-size="10.2" fill="#000">14–15</text><line x1="277.8" y1="225.5" x2="284.59" y2="267.93" stroke="#444" stroke-width="0.85"/><polygon points="285.11,271.19 282.71,268.23 286.46,267.63" fill="#111"/><text x="292.5" y="205.2" text-anchor="middle" font-family="Liberation Serif" font-weight="bold" font-size="10.2" fill="#000">16–19</text><line x1="294.3" y1="209.2" x2="292.58" y2="264.00" stroke="#444" stroke-width="0.85"/><polygon points="292.48,267.3 290.68,263.94 294.48,264.06" fill="#111"/><text x="306" y="233.7" text-anchor="middle" font-family="Liberation Serif" font-weight="bold" font-size="10.2" fill="#000">20</text><line x1="304.8" y1="238.3" x2="302.04" y2="268.61" stroke="#444" stroke-width="0.85"/><polygon points="301.74,271.9 300.15,268.44 303.93,268.79" fill="#111"/><text x="331.4" y="234.9" text-anchor="middle" font-family="Liberation Serif" font-weight="bold" font-size="10.2" fill="#000">22</text><line x1="331.9" y1="239.6" x2="338.86" y2="267.28" stroke="#444" stroke-width="0.85"/><polygon points="339.67,270.48 337.02,267.74 340.71,266.82" fill="#111"/><text x="342" y="217.6" text-anchor="middle" font-family="Liberation Serif" font-weight="bold" font-size="10.2" fill="#000">23</text><line x1="342.3" y1="221" x2="342.02" y2="267.20" stroke="#444" stroke-width="0.85"/><polygon points="342.0,270.5 340.12,267.19 343.92,267.21" fill="#111"/><text x="421.2" y="224.4" text-anchor="middle" font-family="Liberation Serif" font-weight="bold" font-size="10.2" fill="#000">29</text><line x1="421.4" y1="226.5" x2="421.49" y2="265.70" stroke="#444" stroke-width="0.85"/><polygon points="421.5,269.0 419.59,265.70 423.39,265.70" fill="#111"/><text x="493" y="227.5" text-anchor="middle" font-family="Liberation Serif" font-weight="bold" font-size="10.2" fill="#000">38</text><line x1="493.1" y1="228.6" x2="493.10" y2="267.80" stroke="#444" stroke-width="0.85"/><polygon points="493.1,271.1 491.20,267.80 495.00,267.80" fill="#111"/><text x="211.4" y="22.7" font-family="Liberation Serif" font-size="11.8" fill="#000" stroke="#000" stroke-width="0.15">Protopine</text><line x1="234.2" y1="28" x2="234.01" y2="85.20" stroke="#6fab45" stroke-width="1.1"/><polygon points="234.0,88.5 232.21,85.19 235.81,85.21" fill="#6fab45"/><text x="239.4" y="46.3" font-family="Liberation Serif" font-size="11.95" fill="#000" stroke="#000" stroke-width="0.15">Allocryprotopine</text><line x1="272.5" y1="51.4" x2="256.29" y2="101.53" stroke="#6fab45" stroke-width="1.1"/><polygon points="255.28,104.67 254.58,100.98 258.01,102.08" fill="#6fab45"/><text x="285.8" y="175.8" font-family="Liberation Serif" font-size="11.8" fill="#000" stroke="#000" stroke-width="0.15">Sanguinarine</text><line x1="315.4" y1="180.7" x2="315.01" y2="232.70" stroke="#4672c4" stroke-width="1.1"/><polygon points="314.99,236.0 313.21,232.69 316.81,232.71" fill="#4672c4"/><text x="359.7" y="190.3" font-family="Liberation Serif" font-size="11.8" fill="#000" stroke="#000" stroke-width="0.15">Chelerythrine</text><line x1="387.6" y1="195.3" x2="386.48" y2="231.40" stroke="#4672c4" stroke-width="1.1"/><polygon points="386.38,234.7 384.68,231.35 388.28,231.46" fill="#4672c4"/><text transform="translate(317.6,300.2) scale(0.7,1)" text-anchor="middle" font-family="Liberation Sans" font-size="9.8" fill="#222">Counts vs. Acquisition Time (min)</text></svg></body></html>
